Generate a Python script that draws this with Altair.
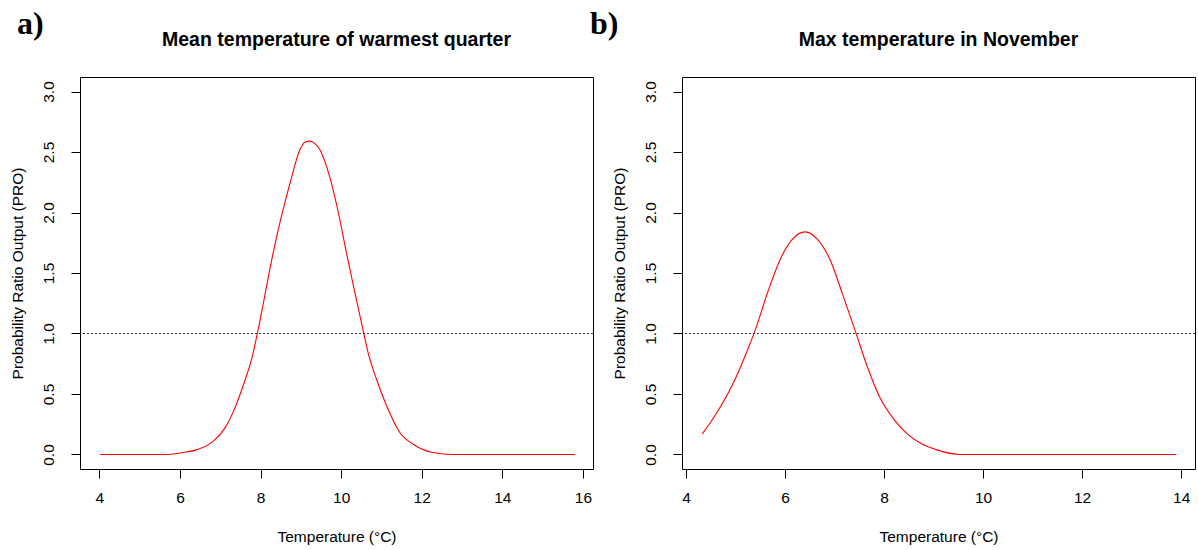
import altair as alt
import pandas as pd

# ---- data ----
a_temp = [4.02, 5.0, 5.71, 6.08, 6.41, 6.83, 7.12, 7.32, 7.57, 7.78, 7.97, 8.07, 8.23,
          8.38, 8.52, 8.73, 8.98, 9.1, 9.22, 9.35, 9.47, 9.72, 9.93, 10.13, 10.34, 10.55,
          10.67, 10.88, 11.13, 11.46, 11.79, 12.28, 12.78, 14.0, 15.8]
a_pro = [0.0, 0.0, 0.0, 0.016, 0.038, 0.11, 0.22, 0.35, 0.57, 0.79, 1.08, 1.25, 1.53,
         1.77, 1.97, 2.24, 2.52, 2.58, 2.59, 2.57, 2.52, 2.29, 2.0, 1.67, 1.34, 1.02,
         0.84, 0.62, 0.40, 0.18, 0.085, 0.016, 0.0, 0.0, 0.0]

b_temp = [4.33, 4.6, 4.99, 5.2, 5.4, 5.65, 5.9, 6.15, 6.41, 6.65, 6.91, 7.15, 7.42,
          7.65, 7.93, 8.2, 8.44, 8.75, 9.05, 9.55, 10.5, 12.0, 13.9]
b_pro = [0.17, 0.33, 0.62, 0.82, 1.03, 1.34, 1.61, 1.78, 1.84, 1.78, 1.61, 1.34, 1.02,
         0.74, 0.46, 0.29, 0.18, 0.09, 0.04, 0.0, 0.0, 0.0, 0.0]

titles = ["Mean temperature of warmest quarter", "Max temperature in November"]
tags = ["a)", "b)"]
y_ticks = [0.0, 0.5, 1.0, 1.5, 2.0, 2.5, 3.0]
a_xticks = [4, 6, 8, 10, 12, 14, 16]
b_xticks = [4, 6, 8, 10, 12, 14]
x_title = "Temperature (°C)"
y_title = "Probability Ratio Output (PRO)"
ref_level = 1.0

FONT = "Liberation Sans"
FS = 15.5
W, H = 513, 392


def panel(xs, ys, title, tag, xdom, xticks, tag_dx):
    df = pd.DataFrame({"t": xs, "pro": ys})
    xaxis = alt.Axis(values=xticks, title=x_title, grid=False, domain=False,
                     tickSize=9, tickColor="black", tickWidth=1,
                     labelFont=FONT, labelFontSize=FS, labelColor="black",
                     labelPadding=12, titleFont=FONT, titleFontSize=FS,
                     titleFontWeight="normal", titleColor="black", titlePadding=24)
    yaxis = alt.Axis(values=y_ticks, format=".1f", title=y_title, grid=False,
                     domain=False, tickSize=9, tickColor="black", tickWidth=1,
                     labelAngle=270, labelAlign="center", labelBaseline="alphabetic",
                     labelFont=FONT, labelFontSize=FS, labelColor="black",
                     labelPadding=18, titleFont=FONT, titleFontSize=FS,
                     titleFontWeight="normal", titleColor="black", titlePadding=16)
    line = alt.Chart(df).mark_line(color="red", strokeWidth=1.1,
                                   interpolate="monotone").encode(
        x=alt.X("t:Q", scale=alt.Scale(domain=xdom, nice=False, zero=False), axis=xaxis),
        y=alt.Y("pro:Q", scale=alt.Scale(domain=[-0.12, 3.12], nice=False, zero=False),
                axis=yaxis),
        order="t:Q",
    )
    ref = alt.Chart(alt.Data(values=[{"r": ref_level}])).mark_rule(
        color="#333333", strokeDash=[2, 2], strokeWidth=1.2
    ).encode(y=alt.Y("r:Q"))
    lab = alt.Chart(alt.Data(values=[{"tag": tag}])).mark_text(
        font="Liberation Serif", fontWeight="bold", fontSize=32, align="left",
        baseline="alphabetic", color="black"
    ).encode(text="tag:N", x=alt.value(tag_dx), y=alt.value(-43))
    return alt.layer(line, ref, lab).properties(
        width=W, height=H,
        title=alt.TitleParams(title, font=FONT, fontSize=19.5, fontWeight="bold",
                              color="black", anchor="middle", baseline="alphabetic",
                              offset=-57),
    )


pa = panel(a_temp, a_pro, titles[0], tags[0], [3.52, 16.25], a_xticks, -63)
pb = panel(b_temp, b_pro, titles[1], tags[1], [3.92, 14.28], b_xticks, -92)

chart = alt.hconcat(pa, pb, spacing=89, bounds="flush").properties(
    padding={"left": 9, "top": 7, "right": 0, "bottom": 0},
    background="white",
).configure_view(stroke="black", strokeWidth=1)

chart.save("out.html", embed_options={"renderer": "svg", "actions": False})
